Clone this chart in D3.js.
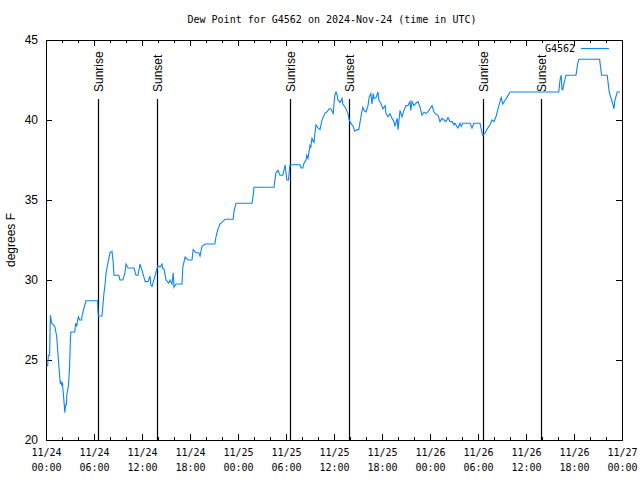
<!DOCTYPE html>
<html>
<head>
<meta charset="utf-8">
<script src="https://cdn.jsdelivr.net/npm/d3@7"></script>
<style>
  body { margin: 0; background: #fff; }
  svg { display: block; }
</style>
</head>
<body>
<svg id="chart" width="640" height="480"></svg>
<script>
// ---- data ----
const chartTitle = "Dew Point for G4562 on 2024-Nov-24 (time in UTC)";
const stationName = "G4562";
const yLabel = "degrees F";
const startTime = "2024-11-24T00:00:00Z";
const endTime = "2024-11-27T00:00:00Z";
const yTicks = [20, 25, 30, 35, 40, 45];

// hours since 2024-11-24 00:00 UTC
const hours = [
  0.2, 0.3, 0.45, 0.55, 0.7, 0.95, 1.1, 1.33, 1.6, 1.72, 1.8, 1.85, 1.95, 2.05, 2.15, 2.25, 2.35, 2.45, 2.55, 2.6,
  2.8, 2.95, 3.03, 3.1, 3.6, 3.7, 3.85, 3.95, 4.05, 4.2, 4.45, 4.5, 4.75, 5.0, 6.45, 6.5, 6.55, 7.0, 7.25, 7.4,
  7.5, 7.6, 7.75, 8.0, 8.25, 8.4, 8.5, 9.1, 9.25, 9.6, 9.85, 10.0, 10.25, 11.0, 11.25, 11.5, 11.75, 12.0, 12.4, 12.75,
  13.0, 13.1, 13.25, 13.6, 13.9, 14.0, 14.25, 14.5, 14.6, 14.75, 15.0, 15.35, 15.5, 15.75, 15.9, 16.0, 16.25, 17.0, 17.1, 17.4,
  17.75, 18.25, 18.4, 18.75, 19.1, 19.25, 19.5, 19.9, 21.1, 21.25, 21.5, 21.75, 22.4, 23.4, 23.5, 23.75, 25.75, 25.9, 26.0, 28.5,
  28.6, 28.75, 29.0, 29.25, 29.6, 29.9, 30.0, 30.1, 30.3, 30.5, 31.75, 31.9, 32.1, 32.25, 32.5, 32.6, 32.75, 32.9, 33.0, 33.1,
  33.25, 33.5, 33.6, 33.75, 34.0, 34.25, 34.5, 34.9, 35.1, 35.4, 35.6, 35.9, 36.0, 36.1, 36.25, 36.4, 36.5, 36.75, 37.0, 37.1,
  37.4, 37.75, 37.9, 38.1, 38.4, 38.6, 38.9, 39.1, 39.4, 39.6, 39.75, 40.0, 40.25, 40.4, 40.6, 40.75, 40.9, 41.0, 41.25, 41.5,
  41.6, 41.9, 42.1, 42.4, 42.5, 42.75, 43.0, 43.25, 43.5, 43.6, 43.9, 44.0, 44.25, 44.5, 44.75, 45.0, 45.25, 45.5, 45.6, 45.75,
  46.0, 46.25, 46.5, 46.75, 47.0, 47.25, 47.5, 47.75, 48.0, 48.25, 48.5, 48.75, 49.0, 49.25, 49.5, 49.75, 50.0, 50.25, 50.5, 50.75,
  51.0, 51.1, 51.5, 51.75, 51.9, 52.1, 53.0, 53.25, 53.5, 54.25, 54.5, 54.6, 54.9, 55.1, 55.5, 55.75, 56.0, 56.25, 56.5, 56.75,
  56.9, 57.1, 57.4, 57.6, 58.0, 64.1, 64.25, 64.4, 64.5, 64.6, 64.75, 65.0, 66.25, 66.45, 66.6, 69.2, 69.45, 70.15, 70.4, 70.7,
  70.9, 71.0, 71.1, 71.4, 71.75
];
const dewPoint = [
  24.6, 25.3, 25.3, 27.8, 27.3, 27.2, 27.1, 26.5, 24.7, 23.9, 23.5, 23.7, 23.4, 23.6, 23.0, 22.4, 21.7, 22.2, 22.2, 22.8,
  23.4, 24.6, 26.0, 26.75, 26.75, 27.3, 27.1, 27.5, 27.7, 27.5, 27.5, 27.75, 28.25, 28.7, 28.7, 28.0, 27.75, 27.75, 29.2, 29.8,
  30.4, 30.7, 31.1, 31.7, 31.8, 31.1, 30.3, 30.3, 30.0, 30.0, 30.4, 31.0, 30.75, 30.75, 30.3, 30.3, 31.0, 30.6, 29.9, 29.9,
  30.25, 29.7, 29.6, 30.2, 30.75, 30.9, 30.8, 31.0, 30.7, 30.7, 30.0, 29.8, 30.0, 29.75, 30.45, 29.55, 29.75, 29.75, 30.8, 31.45,
  31.25, 31.25, 31.9, 31.7, 31.7, 31.5, 32.1, 32.25, 32.25, 32.7, 33.2, 33.5, 33.8, 33.8, 34.3, 34.8, 34.8, 35.3, 35.8, 35.8,
  36.2, 36.7, 36.85, 36.55, 36.55, 37.2, 36.7, 36.25, 36.25, 37.2, 37.2, 37.0, 37.0, 37.3, 37.5, 37.8, 37.6, 38.1, 38.4, 38.3,
  38.85, 38.6, 39.1, 39.7, 39.5, 39.4, 40.0, 40.45, 40.5, 40.7, 40.7, 40.4, 41.0, 41.55, 41.75, 41.55, 41.25, 41.1, 41.35, 41.0,
  40.8, 40.4, 40.0, 39.8, 39.6, 39.3, 39.4, 39.4, 40.3, 40.8, 40.6, 40.5, 40.9, 41.45, 41.65, 41.0, 41.65, 41.35, 41.4, 41.75,
  41.25, 41.0, 40.7, 40.9, 40.4, 40.2, 40.4, 40.1, 39.9, 39.6, 40.1, 39.4, 40.6, 40.2, 40.6, 40.9, 40.9, 41.15, 40.6, 41.15,
  40.9, 41.05, 41.15, 40.8, 40.3, 40.5, 40.4, 40.5, 40.7, 40.9, 40.5, 40.35, 40.3, 39.9, 40.1, 40.0, 39.9, 40.15, 39.9, 39.9,
  39.7, 39.8, 39.5, 39.8, 39.6, 39.8, 39.8, 39.5, 39.8, 39.8, 39.2, 39.05, 39.2, 39.4, 39.7, 40.0, 39.9, 40.2, 40.7, 41.15,
  41.4, 41.0, 41.25, 41.4, 41.75, 41.75, 42.5, 42.8, 41.9, 41.9, 42.3, 42.8, 42.8, 43.5, 43.8, 43.8, 42.8, 42.8, 41.75, 41.25,
  40.9, 40.7, 41.2, 41.75, 41.75
];

const sunEventLabels = ["Sunrise", "Sunset", "Sunrise", "Sunset", "Sunrise", "Sunset"];
const sunEventTimes = [
  "2024-11-24T06:32:00Z", "2024-11-24T13:55:00Z",
  "2024-11-25T06:32:00Z", "2024-11-25T13:55:00Z",
  "2024-11-26T06:35:00Z", "2024-11-26T13:50:00Z"
];

// ---- drawing ----
const svg = d3.select("#chart");
const W = 640, H = 480;
const margin = { left: 46, right: 18, top: 40, bottom: 40 };
const x0 = margin.left, x1 = W - margin.right;
const y0 = margin.top, y1 = H - margin.bottom;

const t0 = new Date(startTime), t1 = new Date(endTime);
const x = d3.scaleUtc().domain([t0, t1]).range([x0, x1]);
const y = d3.scaleLinear().domain([20, 45]).range([y1, y0]);

const data = hours.map((h, i) => ({ t: new Date(t0.getTime() + h * 3600e3), v: dewPoint[i] }));

const monoFont = "'DejaVu Sans Mono', 'Liberation Mono', monospace";
const sansFont = "'Liberation Sans', Arial, sans-serif";

// title
svg.append("text")
  .attr("x", 332).attr("y", 23)
  .attr("text-anchor", "middle")
  .style("font-family", monoFont).style("font-size", "10px")
  .text(chartTitle);

// x-axis minor ticks (every 2h), bottom and top
const minor = d3.axisBottom(x).ticks(d3.utcHour.every(2)).tickSizeInner(-3).tickSizeOuter(0).tickFormat("");
const minorTop = d3.axisTop(x).ticks(d3.utcHour.every(2)).tickSizeInner(-3).tickSizeOuter(0).tickFormat("");
svg.append("g").attr("transform", `translate(0,${y1})`).call(minor).call(g => g.select(".domain").remove());
svg.append("g").attr("transform", `translate(0,${y0})`).call(minorTop).call(g => g.select(".domain").remove());

// x-axis major ticks (every 6h)
const fmtDate = d3.utcFormat("%m/%d"), fmtTime = d3.utcFormat("%H:%M");
const xAxis = d3.axisBottom(x).ticks(d3.utcHour.every(6)).tickSizeInner(-6).tickSizeOuter(0).tickPadding(9).tickFormat(() => "");
const gx = svg.append("g").attr("transform", `translate(0,${y1})`).call(xAxis);
gx.select(".domain").remove();
gx.selectAll(".tick text").each(function(d) {
  const t = d3.select(this);
  t.text(null).style("font-family", monoFont).style("font-size", "10px").attr("fill", "#000");
  t.append("tspan").attr("x", 0).attr("dy", "0.7em").text(fmtDate(d));
  t.append("tspan").attr("x", 0).attr("dy", "1.45em").text(fmtTime(d));
});
const xAxisTop = d3.axisTop(x).ticks(d3.utcHour.every(6)).tickSizeInner(-6).tickSizeOuter(0).tickFormat("");
svg.append("g").attr("transform", `translate(0,${y0})`).call(xAxisTop).call(g => g.select(".domain").remove());

// y axis left and right
const yAxis = d3.axisLeft(y).tickValues(yTicks).tickSizeInner(-6).tickSizeOuter(0).tickPadding(8);
const gy = svg.append("g").attr("transform", `translate(${x0},0)`).call(yAxis);
gy.select(".domain").remove();
gy.selectAll(".tick text").style("font-family", sansFont).style("font-size", "12px").attr("fill", "#000");
const yAxisR = d3.axisRight(y).tickValues(yTicks).tickSizeInner(-6).tickSizeOuter(0).tickFormat("");
svg.append("g").attr("transform", `translate(${x1},0)`).call(yAxisR).call(g => g.select(".domain").remove());

svg.selectAll(".tick line").attr("stroke", "#000").attr("shape-rendering", "crispEdges");

// y label
svg.append("text")
  .attr("transform", `translate(15,${(y0 + y1) / 2}) rotate(-90)`)
  .attr("text-anchor", "middle")
  .style("font-family", sansFont).style("font-size", "12px")
  .text(yLabel);

// sunrise / sunset lines
sunEventTimes.forEach((s, i) => {
  const xp = Math.round(x(new Date(s))) + 0.5;
  svg.append("line")
    .attr("x1", xp).attr("x2", xp).attr("y1", 99).attr("y2", y1)
    .attr("stroke", "#000").attr("stroke-width", 1.2);
  svg.append("text")
    .attr("transform", `translate(${xp + 4},92) rotate(-90)`)
    .attr("text-anchor", "start")
    .style("font-family", sansFont).style("font-size", "12px")
    .text(sunEventLabels[i]);
});

// data line
const line = d3.line().x(d => x(d.t)).y(d => y(d.v));
svg.append("path")
  .datum(data)
  .attr("fill", "none")
  .attr("stroke", "#0a84ff")
  .attr("stroke-width", 1.1)
  .attr("d", line);

// border
svg.append("rect")
  .attr("x", x0 + 0.5).attr("y", y0 + 0.5)
  .attr("width", x1 - x0).attr("height", y1 - y0)
  .attr("fill", "none").attr("stroke", "#000").attr("shape-rendering", "crispEdges");

// legend
svg.append("text")
  .attr("x", 575).attr("y", 52)
  .attr("text-anchor", "end")
  .style("font-family", monoFont).style("font-size", "10px")
  .text(stationName);
svg.append("line")
  .attr("x1", 581).attr("x2", 609).attr("y1", 48.5).attr("y2", 48.5)
  .attr("stroke", "#0a84ff").attr("stroke-width", 1.1);
</script>
</body>
</html>
